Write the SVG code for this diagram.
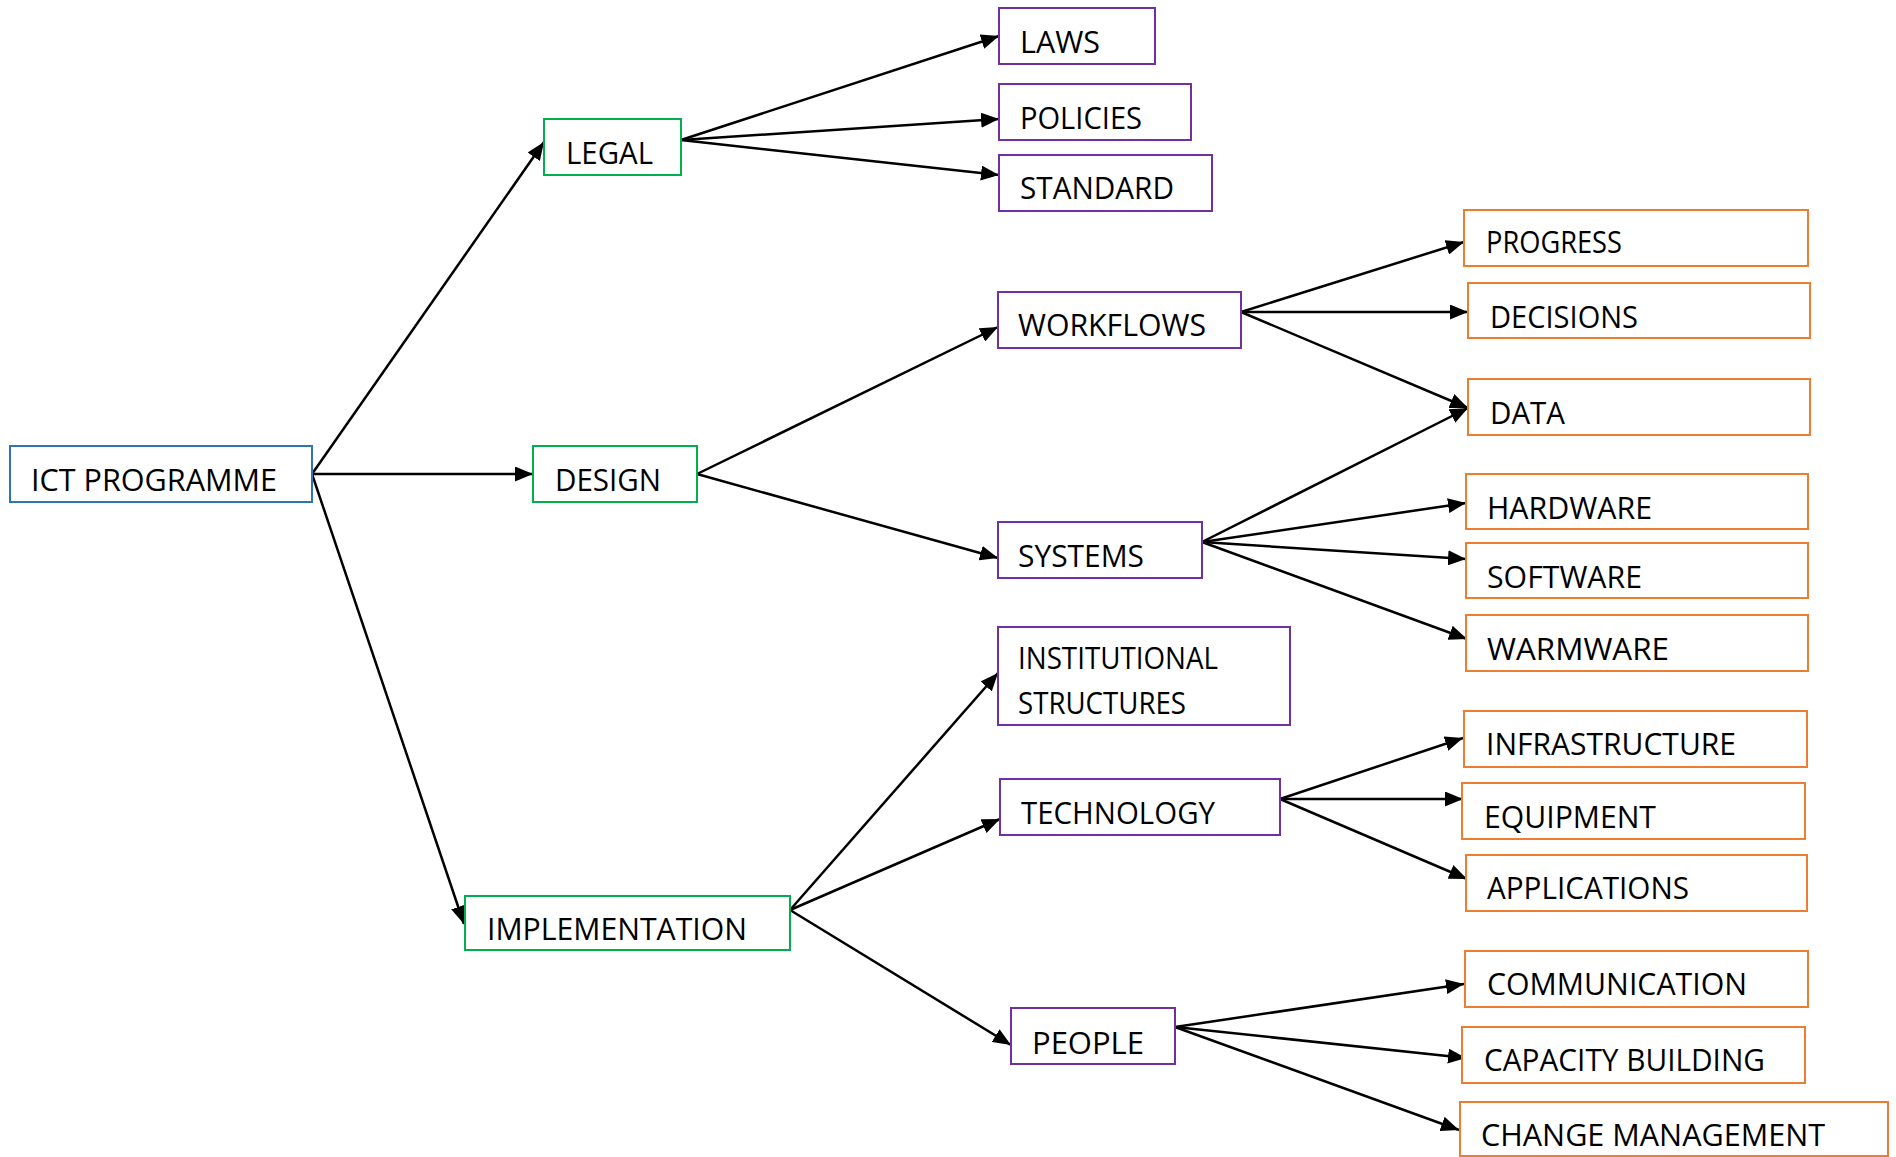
<svg xmlns="http://www.w3.org/2000/svg" width="1896" height="1157" viewBox="0 0 1896 1157">
<style>
rect{fill:#fff;stroke-width:2}
.b{stroke:#2E75B6}.g{stroke:#00B050}.p{stroke:#7030A0}.o{stroke:#ED7D31}
text{font-family:"Open Sans","Noto Sans",sans-serif;font-size:31px;fill:#000}
#edges line{stroke:#000;stroke-width:2.5;marker-end:url(#ah)}
</style>
<defs>
<marker id="ah" markerUnits="userSpaceOnUse" markerWidth="18" markerHeight="15" refX="18" refY="7.5" orient="auto">
<path d="M0,0 L18,7.5 L0,15 z" fill="#000"/>
</marker>
</defs>
<rect width="1896" height="1157" fill="#fff" stroke="none"/>
<g id="edges">
<line x1="312" y1="474" x2="544" y2="142"/>
<line x1="312" y1="474" x2="533" y2="474"/>
<line x1="312" y1="474" x2="464" y2="924"/>
<line x1="681" y1="140" x2="999" y2="36"/>
<line x1="681" y1="140" x2="999" y2="119"/>
<line x1="681" y1="140" x2="999" y2="175"/>
<line x1="697" y1="474" x2="998" y2="327"/>
<line x1="697" y1="474" x2="998" y2="558"/>
<line x1="1241" y1="312" x2="1464" y2="242"/>
<line x1="1241" y1="312" x2="1468" y2="312"/>
<line x1="1241" y1="312" x2="1468" y2="408"/>
<line x1="1202" y1="542" x2="1468" y2="408"/>
<line x1="1202" y1="542" x2="1466" y2="503"/>
<line x1="1202" y1="542" x2="1466" y2="559"/>
<line x1="1202" y1="542" x2="1467" y2="639"/>
<line x1="790" y1="910" x2="998" y2="673"/>
<line x1="790" y1="910" x2="1000" y2="819"/>
<line x1="790" y1="910" x2="1011" y2="1045"/>
<line x1="1280" y1="799" x2="1463" y2="738"/>
<line x1="1280" y1="799" x2="1463" y2="799"/>
<line x1="1280" y1="799" x2="1467" y2="879"/>
<line x1="1175" y1="1027" x2="1464" y2="984"/>
<line x1="1175" y1="1027" x2="1466" y2="1058"/>
<line x1="1175" y1="1027" x2="1459" y2="1130"/>
</g>
<g id="ict"><rect class="b" x="10" y="446" width="302" height="56"/><text x="31" y="491" textLength="246" lengthAdjust="spacingAndGlyphs">ICT PROGRAMME</text></g>
<g id="legal"><rect class="g" x="544" y="119" width="137" height="56"/><text x="566" y="164" textLength="87" lengthAdjust="spacingAndGlyphs">LEGAL</text></g>
<g id="design"><rect class="g" x="533" y="446" width="164" height="56"/><text x="555" y="491" textLength="106" lengthAdjust="spacingAndGlyphs">DESIGN</text></g>
<g id="implementation"><rect class="g" x="465" y="896" width="325" height="54"/><text x="487" y="940" textLength="260" lengthAdjust="spacingAndGlyphs">IMPLEMENTATION</text></g>
<g id="laws"><rect class="p" x="999" y="8" width="156" height="56"/><text x="1020" y="53" textLength="80" lengthAdjust="spacingAndGlyphs">LAWS</text></g>
<g id="policies"><rect class="p" x="999" y="84" width="192" height="56"/><text x="1020" y="129" textLength="122" lengthAdjust="spacingAndGlyphs">POLICIES</text></g>
<g id="standard"><rect class="p" x="999" y="155" width="213" height="56"/><text x="1020" y="199" textLength="154" lengthAdjust="spacingAndGlyphs">STANDARD</text></g>
<g id="workflows"><rect class="p" x="998" y="292" width="243" height="56"/><text x="1018" y="336" textLength="188" lengthAdjust="spacingAndGlyphs">WORKFLOWS</text></g>
<g id="systems"><rect class="p" x="998" y="522" width="204" height="56"/><text x="1018" y="567" textLength="126" lengthAdjust="spacingAndGlyphs">SYSTEMS</text></g>
<g id="institutional"><rect class="p" x="998" y="627" width="292" height="98"/><text x="1018" y="669" textLength="200" lengthAdjust="spacingAndGlyphs">INSTITUTIONAL</text><text x="1018" y="714" textLength="168" lengthAdjust="spacingAndGlyphs">STRUCTURES</text></g>
<g id="technology"><rect class="p" x="1000" y="779" width="280" height="56"/><text x="1021" y="824" textLength="194" lengthAdjust="spacingAndGlyphs">TECHNOLOGY</text></g>
<g id="people"><rect class="p" x="1011" y="1008" width="164" height="56"/><text x="1032" y="1054" textLength="112" lengthAdjust="spacingAndGlyphs">PEOPLE</text></g>
<g id="progress"><rect class="o" x="1464" y="210" width="344" height="56"/><text x="1486" y="253" textLength="136" lengthAdjust="spacingAndGlyphs">PROGRESS</text></g>
<g id="decisions"><rect class="o" x="1468" y="283" width="342" height="55"/><text x="1490" y="328" textLength="148" lengthAdjust="spacingAndGlyphs">DECISIONS</text></g>
<g id="data"><rect class="o" x="1468" y="379" width="342" height="56"/><text x="1490" y="424" textLength="75" lengthAdjust="spacingAndGlyphs">DATA</text></g>
<g id="hardware"><rect class="o" x="1466" y="474" width="342" height="55"/><text x="1487" y="519" textLength="165" lengthAdjust="spacingAndGlyphs">HARDWARE</text></g>
<g id="software"><rect class="o" x="1466" y="543" width="342" height="55"/><text x="1487" y="588" textLength="155" lengthAdjust="spacingAndGlyphs">SOFTWARE</text></g>
<g id="warmware"><rect class="o" x="1466" y="615" width="342" height="56"/><text x="1487" y="660" textLength="182" lengthAdjust="spacingAndGlyphs">WARMWARE</text></g>
<g id="infrastructure"><rect class="o" x="1464" y="711" width="343" height="56"/><text x="1486" y="755" textLength="250" lengthAdjust="spacingAndGlyphs">INFRASTRUCTURE</text></g>
<g id="equipment"><rect class="o" x="1462" y="783" width="343" height="56"/><text x="1484" y="828" textLength="172" lengthAdjust="spacingAndGlyphs">EQUIPMENT</text></g>
<g id="applications"><rect class="o" x="1466" y="855" width="341" height="56"/><text x="1487" y="899" textLength="202" lengthAdjust="spacingAndGlyphs">APPLICATIONS</text></g>
<g id="communication"><rect class="o" x="1465" y="951" width="343" height="56"/><text x="1487" y="995" textLength="260" lengthAdjust="spacingAndGlyphs">COMMUNICATION</text></g>
<g id="capacity"><rect class="o" x="1462" y="1027" width="343" height="56"/><text x="1484" y="1071" textLength="281" lengthAdjust="spacingAndGlyphs">CAPACITY BUILDING</text></g>
<g id="change"><rect class="o" x="1460" y="1102" width="428" height="54"/><text x="1481" y="1146" textLength="344" lengthAdjust="spacingAndGlyphs">CHANGE MANAGEMENT</text></g>
</svg>
